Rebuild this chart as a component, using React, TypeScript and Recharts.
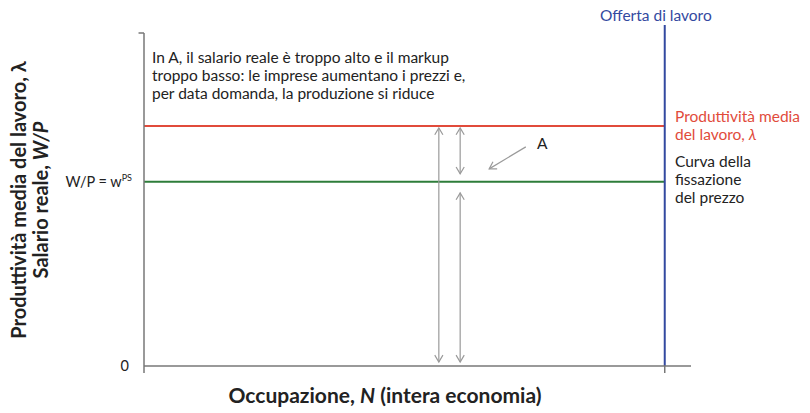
import React from "react"
import { ComposedChart, XAxis, YAxis, ReferenceLine, Line } from "recharts"

// valori (scala 0-100 su entrambi gli assi)
const nDomain = [0, 100]
const yDomain = [0, 100]
const lambdaLevel = 72.1 // produttività media del lavoro
const wpsLevel = 55.3 // W/P = w^PS
const laborSupplyN = 95.2
const laborSupplyTop = 102.4
const yTicks = [0, wpsLevel]

// frecce verticali: [n, da, a]
const arrowsN = [53.9, 57.8, 57.8]
const arrowsFrom = [1.2, 57.7, 1.2]
const arrowsTo = [71.5, 71.5, 52]

// freccia che indica A
const pointerFrom = { n: 69.8, y: 65.8 }
const pointerTo = { n: 63.1, y: 59.2 }

const lineN = [0, laborSupplyN]
const data = lineN.map((n) => ({ n, lambda: lambdaLevel, wps: wpsLevel }))

const W = 810
const H = 413
const FONT = "Lato, 'Open Sans', sans-serif"

const grey = "#9a9a9a"
const axisGrey = "#777"
const red = "#e14b3b"
const green = "#2e7d3a"
const blue = "#3349a0"

function head(x: number, y: number, ang: number, key: string) {
  const s = 8
  const a1 = ang + Math.PI * 0.83
  const a2 = ang - Math.PI * 0.83
  return (
    <polyline
      key={key}
      points={`${x + s * Math.cos(a1)},${y + s * Math.sin(a1)} ${x},${y} ${x + s * Math.cos(a2)},${y + s * Math.sin(a2)}`}
      fill="none"
      stroke={grey}
      strokeWidth={1.2}
    />
  )
}

const arrowShape = (both: boolean) => (props: any) => {
  const { x1, y1, x2, y2 } = props
  const ang = Math.atan2(y2 - y1, x2 - x1)
  return (
    <g>
      <line x1={x1} y1={y1} x2={x2} y2={y2} stroke={grey} strokeWidth={1.2} />
      {head(x2, y2, ang, "e")}
      {both && head(x1, y1, ang + Math.PI, "s")}
    </g>
  )
}

const YTick = (props: any) => {
  const { x, y, payload } = props
  if (payload.value === 0) {
    return (
      <text x={x - 7} y={y + 5} textAnchor="end" fontSize={14.5} fontFamily={FONT} fill="#222">
        0
      </text>
    )
  }
  return (
    <text x={x - 4} y={y + 5} textAnchor="end" fontSize={14.5} fontFamily={FONT} fill="#222">
      W/P = w<tspan fontSize={9} dy={-6}>PS</tspan>
    </text>
  )
}

export default function App() {
  const txt: React.CSSProperties = {
    position: "absolute",
    fontFamily: FONT,
    fontSize: 15.5,
    lineHeight: "18px",
    color: "#222",
    whiteSpace: "nowrap",
  }
  return (
    <div style={{ position: "absolute", left: 0, top: 0, width: W, height: H, background: "#fff" }}>
      <ComposedChart
        width={W}
        height={H}
        data={data}
        margin={{ top: 33, right: 119, bottom: 0, left: 0 }}
      >
        <XAxis
          type="number"
          dataKey="n"
          domain={nDomain}
          ticks={[]}
          height={47}
          axisLine={{ stroke: axisGrey, strokeWidth: 1.5 }}
          tickLine={false}
        />
        <YAxis
          type="number"
          domain={yDomain}
          ticks={yTicks}
          width={144}
          axisLine={{ stroke: axisGrey, strokeWidth: 1.5 }}
          tickLine={false}
          tick={<YTick />}
          interval={0}
        />
        {/* piccoli segni degli assi */}
        <ReferenceLine
          segment={[{ x: -1, y: 100 }, { x: 0, y: 100 }]}
          stroke={axisGrey}
          strokeWidth={1.5}
          ifOverflow="visible"
        />
        <ReferenceLine
          segment={[{ x: 0, y: -2.1 }, { x: 0, y: 0 }]}
          stroke={axisGrey}
          strokeWidth={1.5}
          ifOverflow="visible"
        />
        <ReferenceLine
          segment={[{ x: laborSupplyN, y: -2.1 }, { x: laborSupplyN, y: 0 }]}
          stroke={axisGrey}
          strokeWidth={1.5}
          ifOverflow="visible"
        />
        <Line dataKey="lambda" stroke={red} strokeWidth={2} dot={false} isAnimationActive={false} />
        <Line dataKey="wps" stroke={green} strokeWidth={2} dot={false} isAnimationActive={false} />
        <ReferenceLine
          segment={[
            { x: laborSupplyN, y: 0 },
            { x: laborSupplyN, y: laborSupplyTop },
          ]}
          stroke={blue}
          strokeWidth={2}
          ifOverflow="visible"
        />
        {arrowsN.map((n, i) => (
          <ReferenceLine
            key={`arr-${i}`}
            segment={[{ x: n, y: arrowsFrom[i] }, { x: n, y: arrowsTo[i] }]}
            ifOverflow="visible"
            shape={arrowShape(true)}
          />
        ))}
        <ReferenceLine
          segment={[
            { x: pointerFrom.n, y: pointerFrom.y },
            { x: pointerTo.n, y: pointerTo.y },
          ]}
          ifOverflow="visible"
          shape={arrowShape(false)}
        />
      </ComposedChart>

      <div style={{ ...txt, left: 152, top: 48 }}>
        In A, il salario reale è troppo alto e il markup
        <br />
        troppo basso: le imprese aumentano i prezzi e,
        <br />
        per data domanda, la produzione si riduce
      </div>
      <div style={{ ...txt, left: 537, top: 134 }}>A</div>
      <div style={{ ...txt, left: 600, top: 6, color: blue }}>Offerta di lavoro</div>
      <div style={{ ...txt, left: 675, top: 107, color: red }}>
        Produttività media
        <br />
        del lavoro, <i>λ</i>
      </div>
      <div style={{ ...txt, left: 675, top: 152 }}>
        Curva della
        <br />
        fissazione
        <br />
        del prezzo
      </div>
      <div
        style={{
          ...txt,
          left: 0,
          width: 770,
          textAlign: "center",
          top: 383,
          fontSize: 21,
          lineHeight: "24px",
          fontWeight: 700,
        }}
      >
        Occupazione, <i>N</i> (intera economia)
      </div>
      <div
        style={{
          ...txt,
          left: 29,
          top: 200,
          fontSize: 20,
          lineHeight: "22px",
          fontWeight: 700,
          textAlign: "center",
          transform: "translate(-50%, -50%) rotate(-90deg)",
        }}
      >
        Produttività media del lavoro, λ
        <br />
        Salario reale, <i>W/P</i>
      </div>
    </div>
  )
}
